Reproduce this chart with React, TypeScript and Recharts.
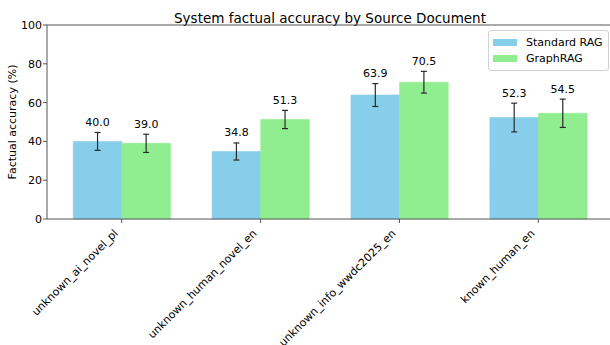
import { BarChart, Bar, XAxis, YAxis, ErrorBar, LabelList, Legend, ReferenceLine } from 'recharts'

// values
const CATEGORIES = ['unknown_ai_novel_pl', 'unknown_human_novel_en', 'unknown_info_wwdc2025_en', 'known_human_en']
const STANDARD_RAG = [40.0, 34.8, 63.9, 52.3]
const GRAPH_RAG = [39.0, 51.3, 70.5, 54.5]
const STANDARD_ERR = [4.6, 4.4, 5.9, 7.4]
const GRAPH_ERR = [4.7, 4.7, 5.6, 7.3]
const Y_TICKS = [0, 20, 40, 60, 80, 100]
const SERIES_NAMES = ['Standard RAG', 'GraphRAG']

const BLUE = '#87CEEB'
const GREEN = '#90EE90'
const SERIES_COLORS = [BLUE, GREEN]
const FONT = '"DejaVu Sans", sans-serif'
const AXIS = '#555'

const data = CATEGORIES.map((name, i) => ({
  name,
  standard: STANDARD_RAG[i],
  graph: GRAPH_RAG[i],
  standardErr: STANDARD_ERR[i],
  graphErr: GRAPH_ERR[i],
}))

function makeValueLabel(errs: number[]) {
  return function ValueLabel(props: any) {
    const { x, y, width, height, value, index } = props
    const errPx = (errs[index] / value) * height
    return (
      <text x={x + width / 2} y={y - errPx - 6.5} textAnchor="middle" fontSize={11} fontFamily={FONT} fill="#000">
        {Number(value).toFixed(1)}
      </text>
    )
  }
}

function XTick(props: any) {
  const { x, y, payload } = props
  const tx = x - 3
  const ty = y + 9
  return (
    <text x={tx} y={ty} textAnchor="end" fontSize={11} fontFamily={FONT} fill="#000" transform={`rotate(-45 ${tx} ${ty})`}>
      {payload.value}
    </text>
  )
}

function LegendBox() {
  return (
    <div
      style={{
        border: '1px solid #d0d0d0',
        borderRadius: 3,
        background: 'rgba(255,255,255,0.8)',
        padding: '3px 5px 3px 4px',
        fontFamily: FONT,
        fontSize: 11,
        whiteSpace: 'nowrap',
      }}
    >
      {SERIES_NAMES.map((name, i) => (
        <div key={name} style={{ display: 'flex', alignItems: 'center', height: 16.5 }}>
          <span style={{ display: 'inline-block', width: 24, height: 7, background: SERIES_COLORS[i], marginRight: 9 }} />
          <span>{name}</span>
        </div>
      ))}
    </div>
  )
}

export default function App() {
  return (
    <div style={{ position: 'absolute', left: 0, top: 0, width: 610, height: 345, overflow: 'hidden', background: '#fff' }}>
      <div
        style={{
          position: 'absolute',
          top: 12,
          left: 0,
          width: 660,
          textAlign: 'center',
          fontFamily: FONT,
          fontSize: 13.5,
          lineHeight: '13px',
          color: '#000',
        }}
      >
        System factual accuracy by Source Document
      </div>
      <BarChart width={613} height={345} data={data} margin={{ top: 25, right: 0, bottom: 0, left: 0 }} barGap={0} barSize={48.6}>
        <XAxis
          dataKey="name"
          height={126}
          padding={{ left: 5.25, right: 5.25 }}
          tick={<XTick />}
          tickSize={4}
          tickMargin={2}
          stroke={AXIS}
          interval={0}
        />
        <YAxis
          width={47}
          domain={[0, 100]}
          ticks={Y_TICKS}
          tickSize={4}
          tickMargin={1}
          stroke={AXIS}
          tick={{ fontSize: 11, fontFamily: FONT, fill: '#000' }}
          label={({ viewBox }: any) => {
            const cx = 12
            const cy = viewBox.y + viewBox.height / 2
            return (
              <text x={cx} y={cy} textAnchor="middle" dominantBaseline="central" fontSize={11} fontFamily={FONT} fill="#000" transform={`rotate(-90 ${cx} ${cy})`}>
                Factual accuracy (%)
              </text>
            )
          }}
        />
        <ReferenceLine y={100} stroke={AXIS} />
        <Legend
          layout="vertical"
          align="center"
          verticalAlign="middle"
          content={<LegendBox />}
          wrapperStyle={{ position: 'absolute', left: 488, top: 30, width: 'auto' }}
        />
        <Bar dataKey="standard" name={SERIES_NAMES[0]} fill={BLUE} stroke={BLUE} strokeWidth={0.6} isAnimationActive={false}>
          <ErrorBar dataKey="standardErr" direction="y" width={3} stroke="#2a2a2a" strokeWidth={1.2} />
          <LabelList dataKey="standard" content={makeValueLabel(STANDARD_ERR)} />
        </Bar>
        <Bar dataKey="graph" name={SERIES_NAMES[1]} fill={GREEN} stroke={GREEN} strokeWidth={0.6} isAnimationActive={false}>
          <ErrorBar dataKey="graphErr" direction="y" width={3} stroke="#2a2a2a" strokeWidth={1.2} />
          <LabelList dataKey="graph" content={makeValueLabel(GRAPH_ERR)} />
        </Bar>
      </BarChart>
    </div>
  )
}
